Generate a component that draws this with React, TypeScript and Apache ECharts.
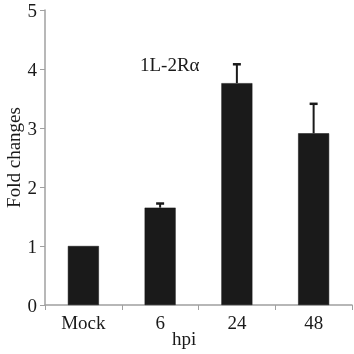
import React, { useEffect, useRef } from "react";
import * as echarts from "echarts";

const categories = ["Mock", "6", "24", "48"];
const foldValues = [1.0, 1.65, 3.76, 2.91];
const errorValues = [0, 0.07, 0.32, 0.5];
const yTicks = { min: 0, max: 5, interval: 1 };
const annotation = "1L-2Rα";
const yName = "Fold changes";
const xName = "hpi";

const FONT = "Liberation Serif";

export default function App() {
  const ref = useRef<HTMLDivElement>(null);
  useEffect(() => {
    if (!ref.current) return;
    const chart = echarts.init(ref.current, null, { renderer: "svg" });
    const errData = foldValues.map((v, i) => [i, v, v + errorValues[i]]);
    chart.setOption({
      animation: false,
      grid: { left: 45, right: 2, top: 10, bottom: 49, containLabel: false, outerBoundsMode: "none" },
      xAxis: {
        type: "category",
        data: categories,
        axisLine: { show: true, lineStyle: { color: "#a0a0a0", width: 1.5 } },
        axisTick: { show: true, alignWithLabel: false, length: 5, lineStyle: { color: "#a0a0a0" } },
        axisLabel: { color: "#1a1a1a", fontFamily: FONT, fontSize: 19, margin: 8 },
        splitLine: { show: false },
      },
      yAxis: {
        type: "value",
        min: yTicks.min,
        max: yTicks.max,
        interval: yTicks.interval,
        name: yName,
        nameLocation: "middle",
        nameGap: 22,
        nameMoveOverlap: false,
        nameTextStyle: { color: "#1a1a1a", fontFamily: FONT, fontSize: 19 },
        axisLine: { show: true, lineStyle: { color: "#a0a0a0", width: 1.5 } },
        axisTick: { show: true, length: 5, lineStyle: { color: "#a0a0a0" } },
        axisLabel: { color: "#1a1a1a", fontFamily: FONT, fontSize: 19, margin: 8 },
        splitLine: { show: false },
      },
      graphic: [
        {
          type: "text",
          left: 140,
          top: 55,
          style: { text: annotation, fontFamily: FONT, fontSize: 19, fill: "#1a1a1a" },
        },
        {
          type: "text",
          left: 172,
          top: 329,
          style: { text: xName, fontFamily: FONT, fontSize: 19, fill: "#1a1a1a" },
        },
      ],
      series: [
        {
          type: "bar",
          data: foldValues,
          barWidth: 31,
          itemStyle: { color: "#1a1a1a", borderColor: "#111", borderWidth: 0.5 },
        },
        {
          type: "custom",
          data: errData,
          z: 10,
          renderItem: (params: any, api: any) => {
            const i = api.value(0);
            const lo = api.coord([i, api.value(1)]);
            const hi = api.coord([i, api.value(2)]);
            if (api.value(2) - api.value(1) <= 0) return { type: "group", children: [] };
            const style = { stroke: "#1a1a1a", lineWidth: 2 };
            return {
              type: "group",
              children: [
                { type: "line", shape: { x1: lo[0], y1: lo[1], x2: hi[0], y2: hi[1] }, style },
                { type: "line", shape: { x1: hi[0] - 4, y1: hi[1], x2: hi[0] + 4, y2: hi[1] }, style: { stroke: "#1a1a1a", lineWidth: 2.5 } },
              ],
            };
          },
        },
      ],
    });
    return () => chart.dispose();
  }, []);
  return <div ref={ref} style={{ width: 354, height: 354, position: "fixed", left: 0, top: 0 }} />;
}
